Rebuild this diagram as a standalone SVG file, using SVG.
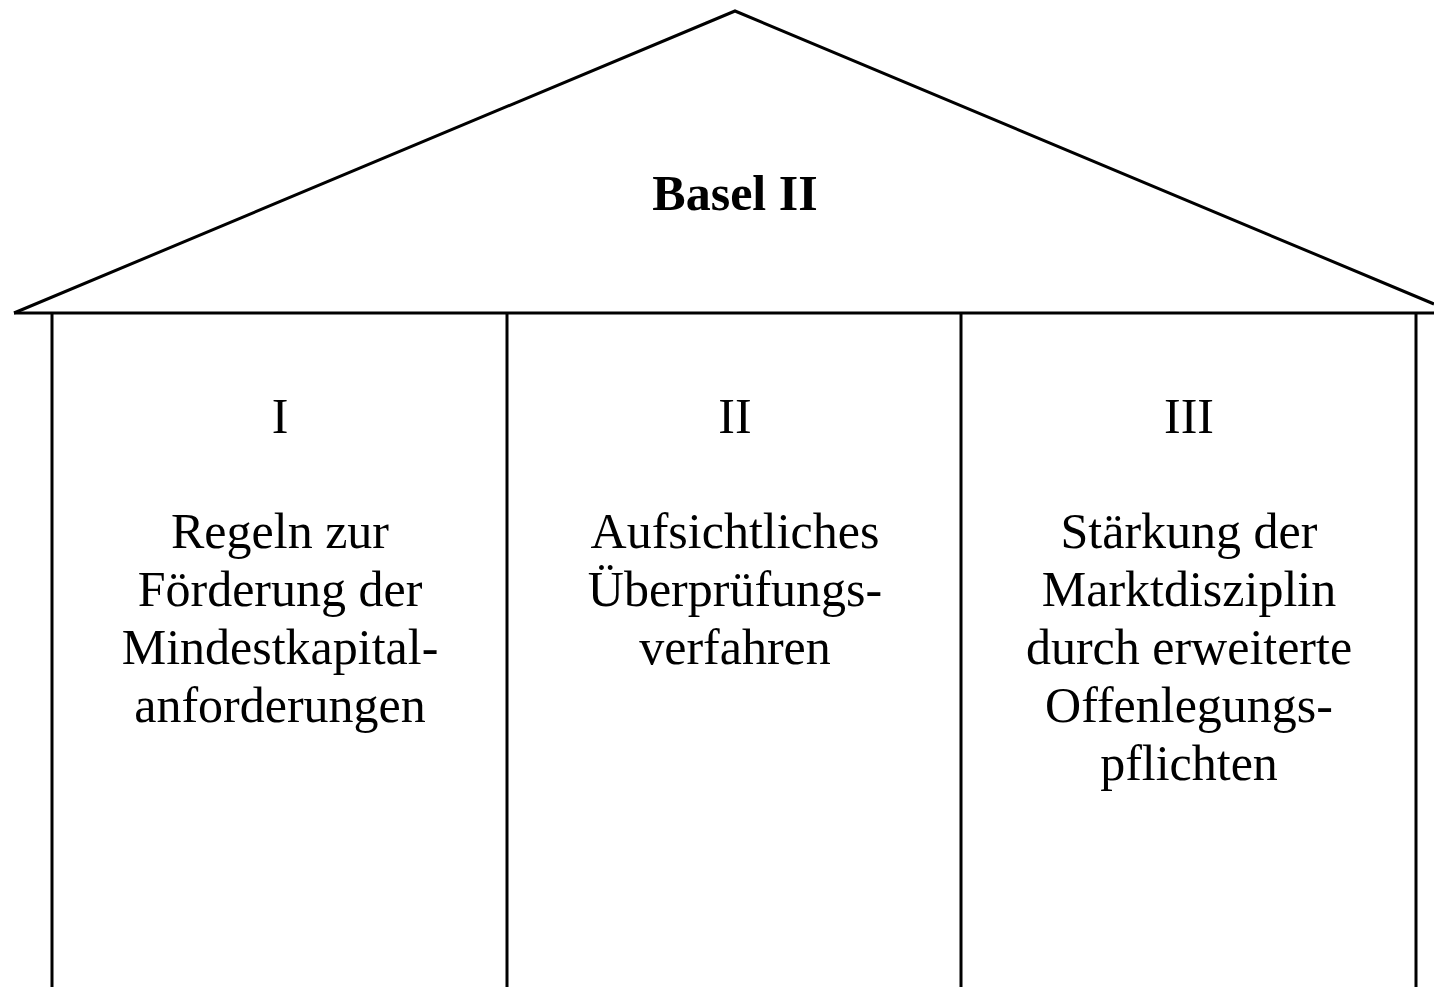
<svg xmlns="http://www.w3.org/2000/svg" width="1434" height="987" viewBox="0 0 1434 987">
<style>
.ln{stroke:#000;stroke-width:3;fill:none}
.t{font-family:"Liberation Serif","Times New Roman",serif;font-size:50px;fill:#000;text-anchor:middle}
.b{font-weight:bold}
</style>
<rect width="1434" height="987" fill="#fff"/>
<g id="roof">
<polyline class="ln" points="14,313 735,11 1434,304"/>
<line class="ln" x1="14" y1="313" x2="1434" y2="313"/>
<text class="t b" x="735" y="210">Basel II</text>
</g>
<g id="posts">
<line class="ln" x1="52" y1="313" x2="52" y2="987"/>
<line class="ln" x1="507" y1="313" x2="507" y2="987"/>
<line class="ln" x1="961" y1="313" x2="961" y2="987"/>
<line class="ln" x1="1416" y1="313" x2="1416" y2="987"/>
</g>
<g id="pillar1">
<text class="t" x="280" y="433">I</text>
<text class="t" x="280" y="548">Regeln zur</text>
<text class="t" x="280" y="606">Förderung der</text>
<text class="t" x="280" y="664">Mindestkapital-</text>
<text class="t" x="280" y="722">anforderungen</text>
</g>
<g id="pillar2">
<text class="t" x="735" y="433">II</text>
<text class="t" x="735" y="548">Aufsichtliches</text>
<text class="t" x="735" y="606">Überprüfungs-</text>
<text class="t" x="735" y="664">verfahren</text>
</g>
<g id="pillar3">
<text class="t" x="1189" y="433">III</text>
<text class="t" x="1189" y="548">Stärkung der</text>
<text class="t" x="1189" y="606">Marktdisziplin</text>
<text class="t" x="1189" y="664">durch erweiterte</text>
<text class="t" x="1189" y="722">Offenlegungs-</text>
<text class="t" x="1189" y="780">pflichten</text>
</g>
</svg>
